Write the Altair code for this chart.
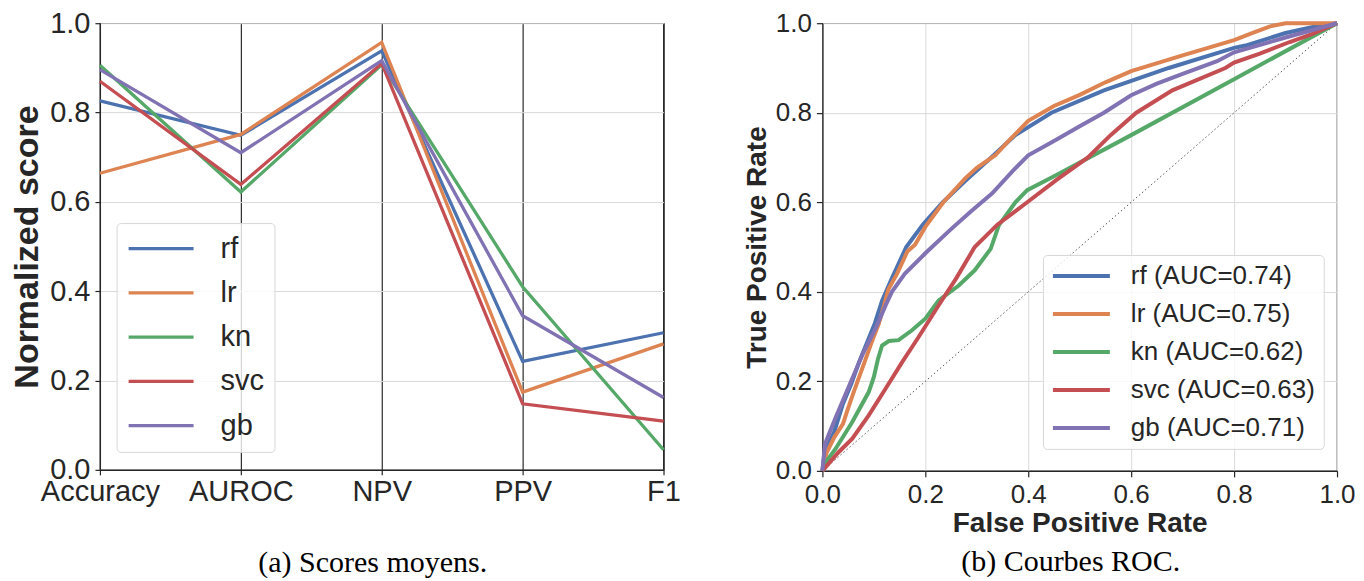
import altair as alt
import pandas as pd

# ---------------- data ----------------
metrics = ["Accuracy", "AUROC", "NPV", "PPV", "F1"]
models = ["rf", "lr", "kn", "svc", "gb"]
colors = ["#4C72B0", "#DD8452", "#55A868", "#C44E52", "#8172B3"]
aucs = ["0.74", "0.75", "0.62", "0.63", "0.71"]

score_rf = [0.826, 0.749, 0.938, 0.243, 0.307]
score_lr = [0.664, 0.751, 0.957, 0.174, 0.282]
score_kn = [0.906, 0.622, 0.907, 0.410, 0.045]
score_svc = [0.870, 0.639, 0.910, 0.148, 0.109]
score_gb = [0.896, 0.710, 0.916, 0.345, 0.162]

fpr_rf = [0.0, 0.004, 0.023, 0.04, 0.056, 0.072, 0.088, 0.102, 0.116, 0.135, 0.163, 0.195, 0.234, 0.28, 0.328, 0.375, 0.445, 0.547, 0.673, 0.8, 0.822, 0.9, 0.96, 1.0]
tpr_rf = [0.0, 0.04, 0.087, 0.15, 0.194, 0.245, 0.29, 0.33, 0.38, 0.43, 0.5, 0.55, 0.6, 0.65, 0.7, 0.75, 0.8, 0.85, 0.9, 0.945, 0.95, 0.978, 0.993, 1.0]

fpr_lr = [0.0, 0.008, 0.023, 0.04, 0.05, 0.062, 0.081, 0.095, 0.11, 0.12, 0.128, 0.145, 0.165, 0.18, 0.2, 0.235, 0.277, 0.3, 0.336, 0.36, 0.4, 0.45, 0.5, 0.55, 0.6, 0.7, 0.8, 0.84, 0.87, 0.9, 1.0]
tpr_lr = [0.0, 0.04, 0.075, 0.105, 0.14, 0.18, 0.24, 0.285, 0.33, 0.37, 0.405, 0.44, 0.49, 0.505, 0.545, 0.6, 0.653, 0.677, 0.705, 0.735, 0.782, 0.815, 0.84, 0.868, 0.893, 0.928, 0.962, 0.98, 0.993, 1.0, 1.0]

fpr_kn = [0.0, 0.01, 0.026, 0.058, 0.09, 0.1, 0.108, 0.116, 0.129, 0.148, 0.174, 0.2, 0.226, 0.265, 0.296, 0.327, 0.343, 0.375, 0.398, 0.453, 0.6, 0.8, 1.0]
tpr_kn = [0.0, 0.025, 0.05, 0.109, 0.176, 0.21, 0.25, 0.28, 0.29, 0.292, 0.314, 0.34, 0.381, 0.414, 0.448, 0.496, 0.549, 0.6, 0.627, 0.66, 0.75, 0.875, 1.0]

fpr_svc = [0.0, 0.03, 0.058, 0.09, 0.123, 0.155, 0.187, 0.226, 0.26, 0.296, 0.34, 0.398, 0.455, 0.516, 0.56, 0.61, 0.68, 0.783, 0.8, 0.85, 0.908, 0.95, 1.0]
tpr_svc = [0.0, 0.04, 0.072, 0.124, 0.184, 0.243, 0.299, 0.37, 0.43, 0.5, 0.55, 0.6, 0.65, 0.7, 0.75, 0.8, 0.85, 0.9, 0.912, 0.932, 0.958, 0.975, 1.0]

fpr_gb = [0.0, 0.005, 0.026, 0.052, 0.078, 0.104, 0.123, 0.135, 0.16, 0.2, 0.25, 0.289, 0.33, 0.37, 0.4, 0.45, 0.5, 0.547, 0.6, 0.65, 0.7, 0.767, 0.8, 0.9, 1.0]
tpr_gb = [0.0, 0.06, 0.12, 0.19, 0.26, 0.32, 0.37, 0.4, 0.44, 0.486, 0.54, 0.58, 0.62, 0.67, 0.705, 0.737, 0.77, 0.8, 0.839, 0.865, 0.887, 0.915, 0.935, 0.968, 1.0]

diag_fpr = [0.0, 1.0]
diag_tpr = [0.0, 1.0]

# ---------------- tables ----------------
score_lists = [score_rf, score_lr, score_kn, score_svc, score_gb]
rows = []
for m, vals in zip(models, score_lists):
    for i, (met, v) in enumerate(zip(metrics, vals)):
        rows.append({"model": m, "metric": met, "score": v, "idx": i})
scores_df = pd.DataFrame(rows)

roc_lists = [(fpr_rf, tpr_rf), (fpr_lr, tpr_lr), (fpr_kn, tpr_kn), (fpr_svc, tpr_svc), (fpr_gb, tpr_gb)]
roc_labels = [f"{m} (AUC={a})" for m, a in zip(models, aucs)]
rows = []
for lab, (fx, ty) in zip(roc_labels, roc_lists):
    for i, (a, b) in enumerate(zip(fx, ty)):
        rows.append({"label": lab, "fpr": a, "tpr": b, "idx": i})
roc_df = pd.DataFrame(rows)
diag_df = pd.DataFrame({"fpr": diag_fpr, "tpr": diag_tpr})

ticks = [0.0, 0.2, 0.4, 0.6, 0.8, 1.0]
DARK = "#262626"
legend_fill = "rgba(255,255,255,0.8)"

# ---------------- left panel ----------------
left = alt.Chart(scores_df).mark_line(strokeWidth=3.3).encode(
    x=alt.X("metric:N", sort=metrics,
            scale=alt.Scale(type="point", padding=0),
            axis=alt.Axis(title=None, labelAngle=0, labelFontSize=29, grid=True,
                          gridColor="black", gridWidth=1, tickSize=5, labelPadding=3)),
    y=alt.Y("score:Q", scale=alt.Scale(domain=[0, 1], nice=False),
            axis=alt.Axis(title="Normalized score", titleFontSize=34, titleFontWeight="bold",
                          values=ticks, format=".1f", labelFontSize=29, tickSize=5,
                          labelPadding=5, titlePadding=5, labelFlush=False)),
    color=alt.Color("model:N", sort=models, scale=alt.Scale(domain=models, range=colors),
                    legend=alt.Legend(title=None, orient="none", legendX=16.7, legendY=200,
                                      symbolType="stroke", symbolSize=4225, symbolStrokeWidth=3.3,
                                      clipHeight=31, rowPadding=13.3, labelFontSize=29,
                                      labelOffset=25, padding=10, fillColor=legend_fill,
                                      strokeColor="#d8d8d8", cornerRadius=4, labelLimit=300,
                                      labelColor=DARK)),
    order="idx:Q",
).properties(
    width=564, height=447,
    title=alt.TitleParams("(a) Scores moyens.", orient="bottom", font="Liberation Serif",
                          fontSize=30, fontWeight="normal", offset=41, anchor="middle",
                          frame="group", color="black", dx=-9),
)

# ---------------- right panel ----------------
x_enc = alt.X("fpr:Q", scale=alt.Scale(domain=[0, 1], nice=False),
              axis=alt.Axis(title="False Positive Rate", titleFontSize=28, titleFontWeight="bold",
                            values=ticks, format=".1f", labelFontSize=26, tickSize=6,
                            labelPadding=5, titlePadding=2, labelFlush=False))
y_enc = alt.Y("tpr:Q", scale=alt.Scale(domain=[0, 1], nice=False),
              axis=alt.Axis(title="True Positive Rate", titleFontSize=28, titleFontWeight="bold",
                            values=ticks, format=".1f", labelFontSize=26, tickSize=6,
                            labelPadding=5, titlePadding=4, labelFlush=False))

diag = alt.Chart(diag_df).mark_line(color="#555555", strokeWidth=1, strokeDash=[1.5, 2.5]).encode(
    x=x_enc, y=y_enc)

roc = alt.Chart(roc_df).mark_line(strokeWidth=4).encode(
    x=x_enc, y=y_enc,
    color=alt.Color("label:N", sort=roc_labels, scale=alt.Scale(domain=roc_labels, range=colors),
                    legend=alt.Legend(title=None, orient="none", legendX=220.7, legendY=232,
                                      symbolType="stroke", symbolSize=3249, symbolStrokeWidth=4,
                                      clipHeight=26, rowPadding=12, labelFontSize=26,
                                      labelOffset=19, padding=8, fillColor=legend_fill,
                                      strokeColor="#d8d8d8", cornerRadius=4, labelLimit=400,
                                      labelColor=DARK)),
    order="idx:Q",
)

right = alt.layer(diag, roc).properties(
    width=515, height=448,
    title=alt.TitleParams("(b) Courbes ROC.", orient="bottom", font="Liberation Serif",
                          fontSize=30, fontWeight="normal", offset=9, anchor="middle",
                          frame="group", color="black", dx=-9),
)

chart = alt.hconcat(left, right, spacing=61).resolve_scale(color="independent").properties(
    padding={"left": 2, "top": 0, "right": 0, "bottom": 0}
).configure(
    font="Liberation Sans"
).configure_view(
    stroke=DARK, strokeWidth=1.2
).configure_axis(
    domainColor=DARK, tickColor=DARK, labelColor=DARK, titleColor=DARK,
    domainWidth=1.2, tickWidth=1.2, gridColor="#dadada", gridWidth=1,
    labelFont="Liberation Sans", titleFont="Liberation Sans"
).configure_legend(
    labelFont="Liberation Sans"
)

chart.save("out.html", embed_options={"renderer": "svg", "actions": False})
